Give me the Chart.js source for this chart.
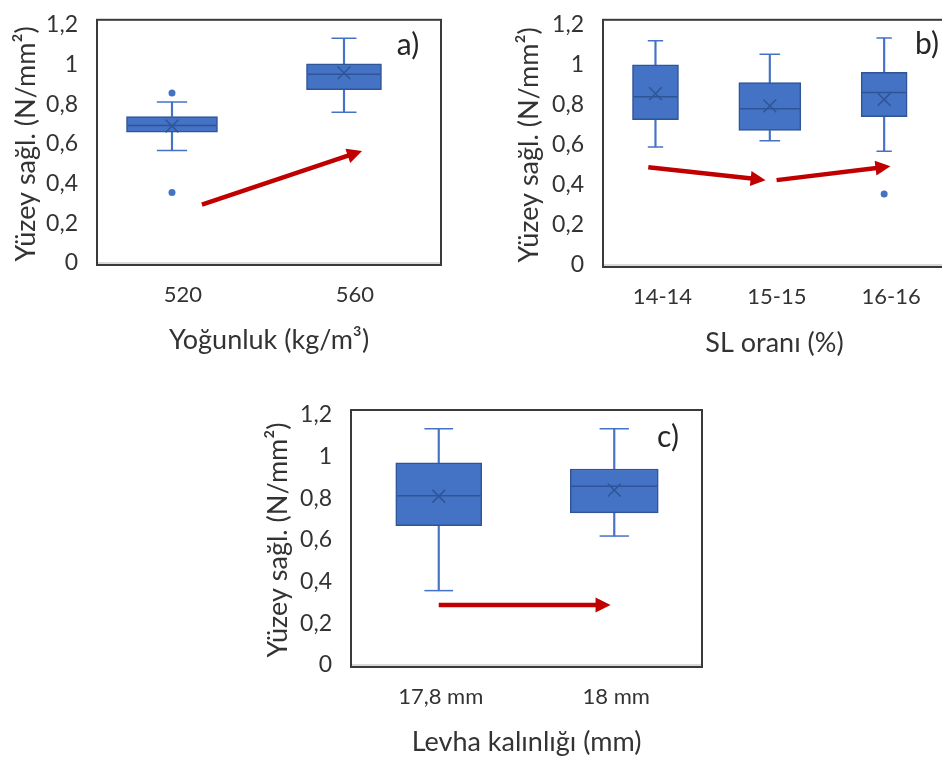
<!DOCTYPE html>
<html>
<head>
<meta charset="utf-8">
<script src="https://cdn.jsdelivr.net/npm/chart.js@4.4.0/dist/chart.umd.min.js"></script>
<style>
  body { margin: 0; background: #fff; overflow: hidden; width: 942px; height: 758px; position: relative; }
  canvas { position: absolute; }
</style>
</head>
<body>
<canvas id="chartA" width="470" height="375" style="left:0;top:0"></canvas>
<canvas id="chartB" width="480" height="375" style="left:470px;top:0"></canvas>
<canvas id="chartC" width="470" height="373" style="left:250px;top:385px"></canvas>
<script>
// a) Yoğunluk
const catsA = ['520', '560'];
const minA = [0.567, 0.76];
const q1A = [0.659, 0.873];
const medA = [0.693, 0.951];
const q3A = [0.738, 1.003];
const maxA = [0.811, 1.132];
const meanA = [0.69, 0.958];
const outA = [[0.857, 0.355], []];
const arrowsA = [[1.174, 0.294, 2.105, 0.564]];

// b) SL oranı
const catsB = ['14-14', '15-15', '16-16'];
const minB = [0.59, 0.621, 0.568];
const q1B = [0.726, 0.672, 0.741];
const medB = [0.84, 0.781, 0.862];
const q3B = [1.0, 0.911, 0.963];
const maxB = [1.12, 1.053, 1.134];
const meanB = [0.856, 0.795, 0.827];
const outB = [[], [], [0.355]];
const arrowsB = [[0.937, 0.488, 1.963, 0.424], [2.059, 0.424, 3.055, 0.493]];

// c) Levha kalınlığı
const catsC = ['17,8 mm', '18 mm'];
const minC = [0.357, 0.619];
const q1C = [0.669, 0.73];
const medC = [0.813, 0.858];
const q3C = [0.971, 0.941];
const maxC = [1.134, 1.134];
const meanC = [0.81, 0.839];
const outC = [[], []];
const arrowsC = [[1.0, 0.288, 1.979, 0.288]];

const yTicks = [0, 0.2, 0.4, 0.6, 0.8, 1, 1.2];

const BLUE = '#4472C4';
const EDGE = '#2F5597';
const RED = '#C00000';
const TEXT = '#333333';

Chart.defaults.font.family = 'Lato';

function fmt(v) {
    return String(Number(v.toFixed(1))).replace('.', ',');
}

function drawArrow(ctx, x0, y0, x1, y1) {
    const ang = Math.atan2(y1 - y0, x1 - x0);
    const c = Math.cos(ang), s = Math.sin(ang);
    const headL = 15, headW = 7.5;
    const bx = x1 - c * headL, by = y1 - s * headL;
    ctx.save();
    ctx.strokeStyle = RED;
    ctx.lineWidth = 4.5;
    ctx.beginPath();
    ctx.moveTo(x0, y0);
    ctx.lineTo(bx + c, by + s);
    ctx.stroke();
    ctx.fillStyle = RED;
    ctx.beginPath();
    ctx.moveTo(x1, y1);
    ctx.lineTo(bx - s * headW, by + c * headW);
    ctx.lineTo(bx + s * headW, by - c * headW);
    ctx.closePath();
    ctx.fill();
    ctx.restore();
}

// frame, panel letter and red arrows
const overlay = {
    id: 'overlay',
    afterDatasetsDraw(chart, args, opts) {
        const ctx = chart.ctx;
        const x = chart.scales.x, y = chart.scales.y;
        opts.arrows.forEach(a => {
            drawArrow(ctx, x.getPixelForValue(a[0]), y.getPixelForValue(a[1]),
                x.getPixelForValue(a[2]), y.getPixelForValue(a[3]));
        });
    },
    afterDraw(chart, args, opts) {
        const ctx = chart.ctx;
        const ca = chart.chartArea;
        ctx.save();
        ctx.strokeStyle = '#3a3a3a';
        ctx.lineWidth = 2;
        ctx.strokeRect(ca.left, ca.top - 5, ca.right - ca.left, ca.bottom - ca.top + 7);
        ctx.fillStyle = '#262626';
        ctx.font = '30px Lato';
        ctx.textAlign = 'center';
        ctx.textBaseline = 'middle';
        ctx.fillText(opts.tag, ca.right - opts.tagDx, ca.top + opts.tagDy);
        ctx.restore();
    }
};

function buildPanel(id, d, s) {
    const canvas = document.getElementById(id);
    const n = d.cats.length;
    const xs = d.cats.map((c, i) => i + 1);
    const datasets = [];

    // whiskers
    datasets.push({
        type: 'bar', data: xs.map((x, i) => ({ x: x, y: [d.lo[i], d.q1[i]] })),
        barThickness: 1.5, backgroundColor: BLUE, grouped: false, order: 6
    });
    datasets.push({
        type: 'bar', data: xs.map((x, i) => ({ x: x, y: [d.q3[i], d.hi[i]] })),
        barThickness: 1.5, backgroundColor: BLUE, grouped: false, order: 6
    });
    // boxes, one dataset each so every box keeps its own width
    xs.forEach((x, i) => {
        datasets.push({
            type: 'bar', data: [{ x: x, y: [d.q1[i], d.q3[i]] }],
            barThickness: s.boxW[i], backgroundColor: BLUE, borderColor: EDGE,
            borderWidth: 1.5, borderSkipped: false, grouped: false, order: 5
        });
    });
    // whisker caps
    [d.lo, d.hi].forEach(arr => {
        datasets.push({
            type: 'line', showLine: false, data: xs.map((x, i) => ({ x: x, y: arr[i] })),
            pointStyle: 'line', pointRadius: s.boxW.map(w => w / 6), pointBorderColor: BLUE,
            pointBorderWidth: 1.5, order: 4
        });
    });
    // median
    datasets.push({
        type: 'line', showLine: false, data: xs.map((x, i) => ({ x: x, y: d.med[i] })),
        pointStyle: 'line', pointRadius: s.boxW.map(w => w / 2 - 1), pointBorderColor: EDGE,
        pointBorderWidth: 1.5, order: 3
    });
    // mean
    datasets.push({
        type: 'line', showLine: false, data: xs.map((x, i) => ({ x: x, y: d.mean[i] })),
        pointStyle: 'crossRot', pointRadius: 9, pointBorderColor: EDGE,
        pointBorderWidth: 1.5, order: 2
    });
    // outliers
    const outPts = [];
    d.out.forEach((list, i) => list.forEach(v => outPts.push({ x: i + 1, y: v })));
    datasets.push({
        type: 'line', showLine: false, data: outPts, pointStyle: 'circle', pointRadius: 3.5,
        pointBackgroundColor: BLUE, pointBorderColor: BLUE, pointBorderWidth: 0, order: 1
    });

    return new Chart(canvas, {
        type: 'bar',
        data: { datasets: datasets },
        options: {
            responsive: false,
            animation: false,
            events: [],
            layout: {
                autoPadding: false,
                padding: { top: s.area.top, right: canvas.width - s.area.right, left: 0, bottom: 0 }
            },
            plugins: {
                legend: { display: false },
                tooltip: { enabled: false },
                overlay: { arrows: d.arrows, tag: s.tag, tagDx: s.tagDx, tagDy: s.tagDy }
            },
            scales: {
                x: {
                    type: 'linear',
                    offset: false,
                    min: 0.5 + s.shift,
                    max: n + 0.5 + s.shift,
                    afterBuildTicks: sc => { sc.ticks = xs.map(v => ({ value: v })); },
                    afterFit: sc => { sc.height = canvas.height - s.area.bottom; },
                    ticks: {
                        callback: v => d.cats[v - 1],
                        labelOffset: s.labelOffset,
                        padding: 11,
                        maxRotation: 0,
                        autoSkip: false,
                        color: TEXT,
                        font: { size: 22 }
                    },
                    grid: { display: false, offset: false },
                    border: { display: true, color: '#d9d9d9', width: 2 },
                    title: {
                        display: true, text: s.xTitle, color: TEXT, font: { size: 27 },
                        padding: { top: 0, bottom: s.xTitlePad }
                    }
                },
                y: {
                    min: 0,
                    max: 1.2,
                    afterBuildTicks: sc => { sc.ticks = yTicks.map(v => ({ value: v })); },
                    afterFit: sc => { sc.width = s.area.left; },
                    ticks: { callback: v => fmt(v), padding: 11, color: TEXT, font: { size: 23 } },
                    grid: { display: false },
                    border: { display: false },
                    title: {
                        display: true, text: 'Yüzey sağl. (N/mm²)', color: TEXT, font: { size: 27 },
                        padding: { top: s.yTitlePad, bottom: 0 }
                    }
                }
            }
        },
        plugins: [overlay]
    });
}

buildPanel('chartA',
    { cats: catsA, lo: minA, q1: q1A, med: medA, q3: q3A, hi: maxA, mean: meanA, out: outA, arrows: arrowsA },
    { boxW: [91, 75], shift: 0.064, labelOffset: 11, area: { left: 97, right: 441, top: 17, bottom: 263 },
      yTitlePad: 10, xTitlePad: 19, tag: 'a)', tagDx: 33, tagDy: 21, xTitle: 'Yoğunluk (kg/m³)' });

buildPanel('chartB',
    { cats: catsB, lo: minB, q1: q1B, med: medB, q3: q3B, hi: maxB, mean: meanB, out: outB, arrows: arrowsB },
    { boxW: [46, 62, 46], shift: 0.041, labelOffset: 7, area: { left: 133, right: 476, top: 15, bottom: 265 },
      yTitlePad: 43, xTitlePad: 16, tag: 'b)', tagDx: 19, tagDy: 20, xTitle: 'SL oranı (%)' });

buildPanel('chartC',
    { cats: catsC, lo: minC, q1: q1C, med: medC, q3: q3C, hi: maxC, mean: meanC, out: outC, arrows: arrowsC },
    { boxW: [86, 88], shift: 0, labelOffset: 2, area: { left: 101, right: 452, top: 30, bottom: 280 },
      yTitlePad: 12, xTitlePad: 0, tag: 'c)', tagDx: 34, tagDy: 22, xTitle: 'Levha kalınlığı (mm)' });
</script>
</body>
</html>
